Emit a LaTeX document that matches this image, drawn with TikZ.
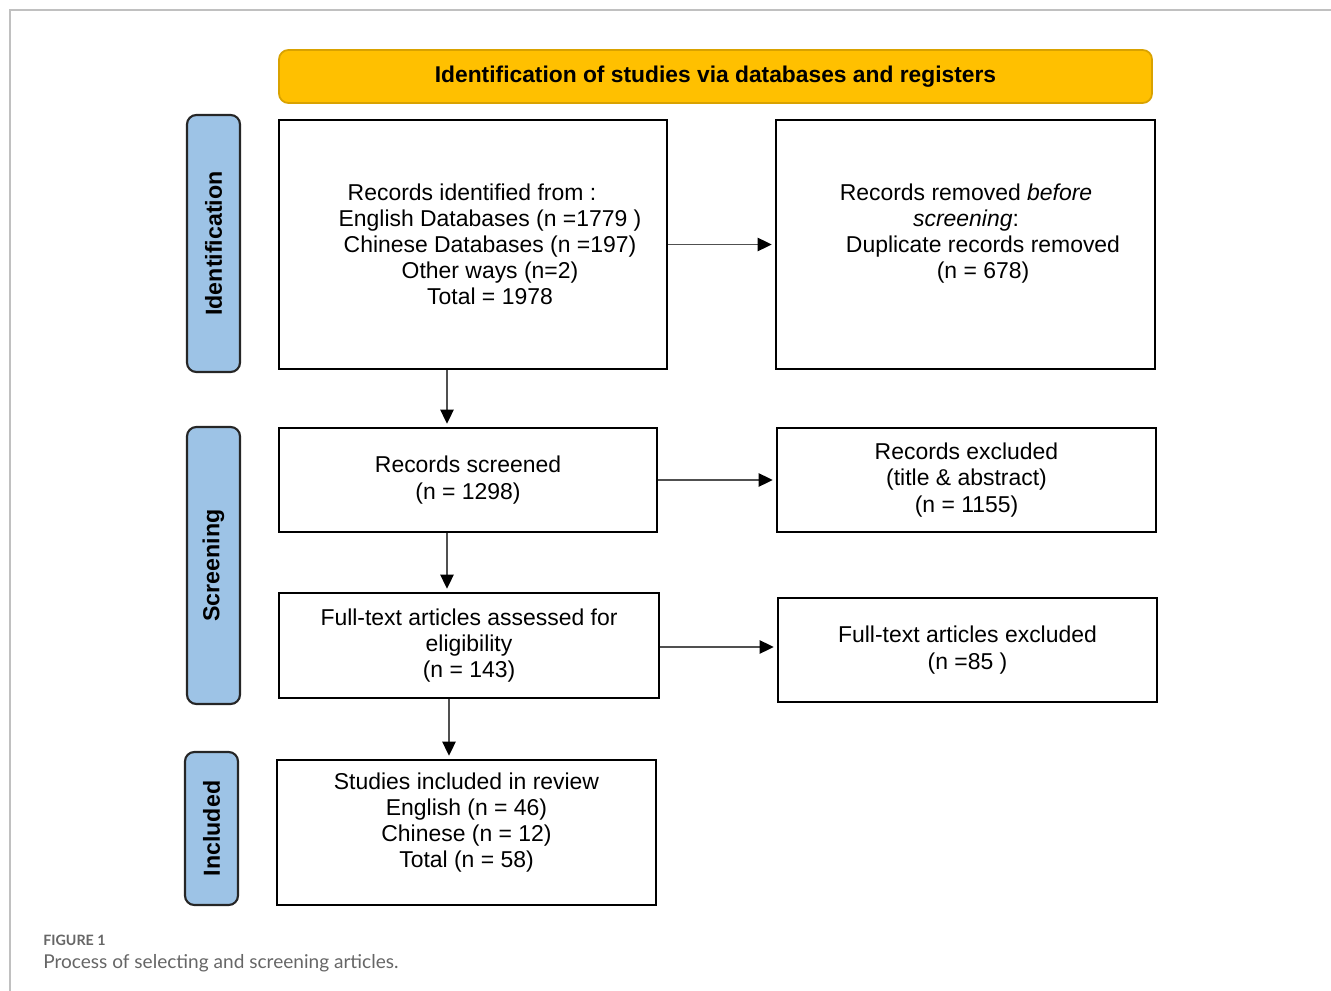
\documentclass[tikz,border=0pt]{standalone}
\usepackage{fontspec}
\setmainfont{Liberation Sans}
\newfontfamily\capfont{Lato}
\usetikzlibrary{arrows.meta,calc}
\definecolor{hdrfill}{HTML}{FFC000}
\definecolor{hdrdraw}{HTML}{D9A200}
\definecolor{sidefill}{HTML}{9DC3E6}
\definecolor{arrgray}{HTML}{505050}
\definecolor{frame}{HTML}{C0C0C0}
\definecolor{capgray}{HTML}{666666}
\tikzset{
  txt/.style={font=\fontsize{17.2}{19.6}\selectfont},
  box/.style={draw=black, line width=1.4pt, align=center, inner sep=0pt, txt},
  sidebox/.style={draw=black!85, line width=1.6pt, fill=sidefill, rounded corners=7pt,
    minimum width=39.75pt, inner sep=0pt},
  sidetext/.style={rotate=90, font=\fontsize{17.4}{19.6}\selectfont\bfseries},
  hdr/.style={draw=hdrdraw, line width=1.3pt, fill=hdrfill, rounded corners=7pt,
    minimum width=654.75pt, minimum height=39.75pt, inner sep=0pt,
    font=\fontsize{17.1}{19.6}\selectfont\bfseries},
  arr/.style={draw=arrgray, line width=0.9pt,
    -{Triangle[length=10.5pt,width=10pt,color=black]}, shorten >=2.5pt},
}
\begin{document}
\begin{tikzpicture}[x=0.75pt,y=-0.75pt]
\useasboundingbox (0,0) rectangle (1331,991);
% page frame
\draw[frame, line width=1pt] (1331,10) -- (10,10) -- (10,991);

% header
\node[hdr] (hdr) at (715.5,76.5) {Identification of studies via databases and registers};

% side labels
\node[sidebox, minimum height=192.75pt] (sid) at (213.5,243.5) {};
\node[sidetext] (sidt) at (sid.center) {Identification};
\node[sidebox, minimum height=207.75pt] (sscr) at (213.5,565.5) {};
\node[sidetext] (sscrt) at (sscr.center) {Screening};
\node[sidebox, minimum height=114.75pt] (sinc) at (211.5,828.5) {};
\node[sidetext] (sinct) at (sinc.center) {Included};

% boxes
\node[box, minimum width=291pt, minimum height=186.75pt] (ident) at (473,244.5) {};
\node[align=center, txt] (identt) at (490,244.5)
  {Records identified from :\hspace*{27pt}\\
   English Databases (n =1779 )\\
   Chinese Databases (n =197)\\
   Other ways (n=2)\\
   Total = 1978};

\node[box, minimum width=284.25pt, minimum height=186.75pt] (removed) at (965.5,244.5) {};
\node[align=center, txt] (removedt) at (966,233.5)
  {Records removed \emph{before}\\
   \emph{screening}:\\
   \hspace*{25.5pt}Duplicate records removed\\
   \hspace*{25.5pt}(n = 678)};

\node[box, minimum width=283.5pt, minimum height=78pt] (screened) at (468,480)
  {Records screened\\(n = 1298)};
\node[box, minimum width=284.25pt, minimum height=78pt] (excl) at (966.5,480)
  {Records excluded\\(title \& abstract)\\(n = 1155)};
\node[box, minimum width=285pt, minimum height=78.75pt] (full) at (469,645.5)
  {Full-text articles assessed for\\eligibility\\(n = 143)};
\node[box, minimum width=284.25pt, minimum height=78pt] (fullex) at (967.5,650)
  {Full-text articles excluded\\(n =85 )};
\node[box, minimum width=284.25pt, minimum height=108.75pt] (incl) at (466.5,832.5) {};
\node[align=center, txt] (inclt) at (466.5,822.5)
  {Studies included in review\\English (n = 46)\\Chinese (n = 12)\\Total (n = 58)};

% arrows
\coordinate (c1) at (447,0);
\coordinate (c2) at (449,0);
\coordinate (r3) at (0,647);
\draw[arr] (ident.east) -- (removed.west);
\draw[arr] (ident.south -| c1) -- (screened.north -| c1);
\draw[arr] (screened.east) -- (excl.west);
\draw[arr] (screened.south -| c1) -- (full.north -| c1);
\draw[arr] (full.east |- r3) -- (fullex.west |- r3);
\draw[arr] (full.south -| c2) -- (incl.north -| c2);

% caption
\node[anchor=base west, inner sep=0pt, text=capgray, font=\capfont\fontsize{10.7}{12}\selectfont\bfseries] (figlbl) at (43,945) {FIGURE 1};
\node[anchor=base west, inner sep=0pt, text=capgray, font=\capfont\fontsize{14.3}{16}\selectfont] (figcap) at (43,968) {Process of selecting and screening articles.};
\end{tikzpicture}
\end{document}
